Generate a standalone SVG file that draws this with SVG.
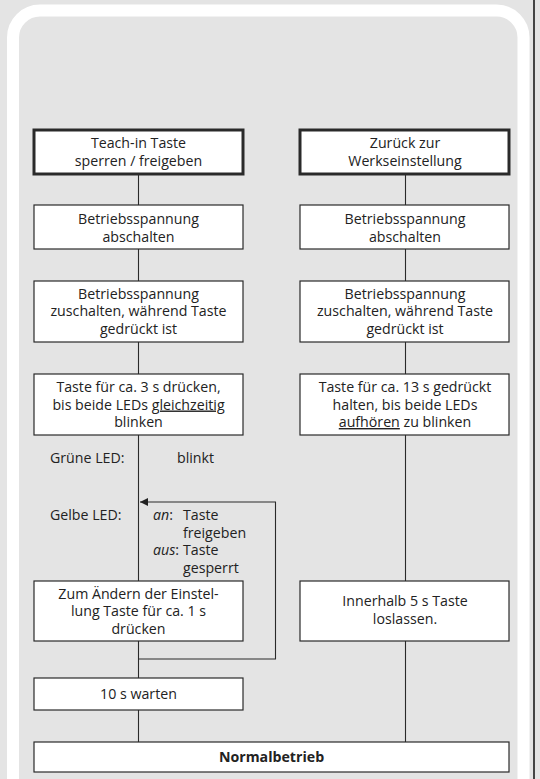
<svg xmlns="http://www.w3.org/2000/svg" width="540" height="779" viewBox="0 0 540 779">
<defs>
<style>
.box{fill:#fff;stroke:#2a2a2a;stroke-width:1.2}
.head{fill:#fff;stroke:#2a2a2a;stroke-width:3}
.t{font-family:"Open Sans","Noto Sans","Liberation Sans",sans-serif;font-size:14.2px;fill:#222;text-anchor:middle}
.l{font-family:"Open Sans","Noto Sans","Liberation Sans",sans-serif;font-size:14.2px;fill:#222}
.c{stroke:#2a2a2a;stroke-width:1.1;fill:none}
</style>
<marker id="ah" markerWidth="10" markerHeight="10" refX="8" refY="4" orient="auto" markerUnits="userSpaceOnUse">
<path d="M0,0 L8,4 L0,8 Z" fill="#222"/>
</marker>
</defs>
<rect x="0" y="0" width="540" height="779" fill="#e4e4e4"/>
<rect x="13" y="10.5" width="510.5" height="800" rx="27" ry="27" fill="none" stroke="#fff" stroke-width="12"/>
<rect x="533" y="0" width="2" height="779" fill="#444"/>

<g id="connectors">
<path class="c" d="M138.5,174 V205 M138.5,249 V281 M138.5,342 V374 M138.5,435 V581 M138.5,641 V678 M138.5,710 V742"/>
<path class="c" d="M138.5,659 H275.5 V502 H140" marker-end="url(#ah)"/>
<path class="c" d="M405.5,174 V205 M405.5,249 V281 M405.5,342 V374 M405.5,435 V581 M405.5,641 V742"/>
</g>

<g id="L1"><rect class="head" x="34" y="130" width="209" height="44"/>
<text class="t" x="138.5" y="148">Teach-in Taste</text><text class="t" x="138.5" y="165.5">sperren / freigeben</text></g>
<g id="L2"><rect class="box" x="34" y="205" width="209" height="44"/>
<text class="t" x="138.5" y="224">Betriebsspannung</text><text class="t" x="138.5" y="241.5">abschalten</text></g>
<g id="L3"><rect class="box" x="34" y="281" width="209" height="61"/>
<text class="t" x="138.5" y="298.5">Betriebsspannung</text><text class="t" x="138.5" y="316">zuschalten, während Taste</text><text class="t" x="138.5" y="333.5">gedrückt ist</text></g>
<g id="L4"><rect class="box" x="34" y="374" width="209" height="61"/>
<text class="t" x="138.5" y="392">Taste für ca. 3 s drücken,</text><text class="t" x="138.5" y="409.5">bis beide LEDs <tspan text-decoration="underline">gleichzeitig</tspan></text><text class="t" x="138.5" y="427">blinken</text></g>
<g id="leds">
<text class="l" x="50" y="463">Grüne LED:</text>
<text class="l" x="177" y="463">blinkt</text>
<text class="l" x="50" y="520">Gelbe LED:</text>
<text class="l" x="153" y="520"><tspan font-style="italic">an</tspan>:</text>
<text class="l" x="183" y="520">Taste</text>
<text class="l" x="183" y="537.5">freigeben</text>
<text class="l" x="153" y="555"><tspan font-style="italic">aus</tspan>:</text>
<text class="l" x="183" y="555">Taste</text>
<text class="l" x="183" y="572.5">gesperrt</text>
</g>
<g id="L5"><rect class="box" x="34" y="581" width="209" height="60"/>
<text class="t" x="138.5" y="598.5">Zum Ändern der Einstel-</text><text class="t" x="138.5" y="616">lung Taste für ca. 1 s</text><text class="t" x="138.5" y="633.5">drücken</text></g>
<g id="L6"><rect class="box" x="34" y="678" width="209" height="32"/>
<text class="t" x="138.5" y="699">10 s warten</text></g>

<g id="R1"><rect class="head" x="300" y="130" width="209" height="44"/>
<text class="t" x="405" y="148">Zurück zur</text><text class="t" x="405" y="165.5">Werkseinstellung</text></g>
<g id="R2"><rect class="box" x="300" y="205" width="209" height="44"/>
<text class="t" x="405" y="224">Betriebsspannung</text><text class="t" x="405" y="241.5">abschalten</text></g>
<g id="R3"><rect class="box" x="300" y="281" width="209" height="61"/>
<text class="t" x="405" y="298.5">Betriebsspannung</text><text class="t" x="405" y="316">zuschalten, während Taste</text><text class="t" x="405" y="333.5">gedrückt ist</text></g>
<g id="R4"><rect class="box" x="300" y="374" width="209" height="61"/>
<text class="t" x="405" y="392">Taste für ca. 13 s gedrückt</text><text class="t" x="405" y="409.5">halten, bis beide LEDs</text><text class="t" x="405" y="427"><tspan text-decoration="underline">aufhören</tspan> zu blinken</text></g>
<g id="R5"><rect class="box" x="300" y="581" width="209" height="60"/>
<text class="t" x="405" y="605.5">Innerhalb 5 s Taste</text><text class="t" x="405" y="623.5">loslassen.</text></g>

<g id="N"><rect class="box" x="34" y="742" width="475" height="30"/>
<text class="t" x="271.5" y="762" font-weight="bold">Normalbetrieb</text></g>
</svg>
